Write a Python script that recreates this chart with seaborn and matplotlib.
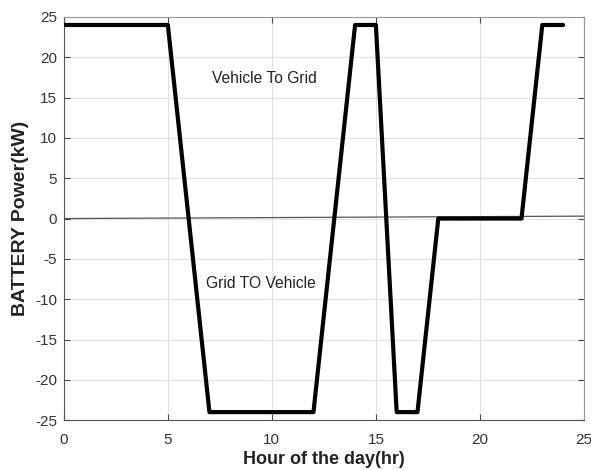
import matplotlib
matplotlib.use("Agg")
import matplotlib.pyplot as plt
import seaborn as sns
import pandas as pd

# Hourly battery power profile (kW)
hours = [0, 5, 7, 12, 14, 15, 16, 17, 18, 22, 23, 24]
power = [24, 24, -24, -24, 24, 24, -24, -24, 0, 0, 24, 24]

# Reference zero line
zero_x = [0, 25]
zero_y = [0, 0.3]

x_ticks = [0, 5, 10, 15, 20, 25]
y_ticks = [-25, -20, -15, -10, -5, 0, 5, 10, 15, 20, 25]

sns.set_theme(style="whitegrid")
plt.rcParams["font.family"] = ["Liberation Sans", "DejaVu Sans"]
plt.rcParams["axes.unicode_minus"] = False

fig = plt.figure(figsize=(5.91, 4.70), dpi=100)
ax = fig.add_axes([0.108, 0.106, 0.880, 0.858])

df = pd.DataFrame({"hour": hours, "power": power})
sns.lineplot(data=df, x="hour", y="power", ax=ax, color="black",
             linewidth=3.0, sort=False, zorder=3)
sns.lineplot(x=zero_x, y=zero_y, ax=ax, color="#555555", linewidth=0.9, zorder=2)

ax.set_xlim(0, 25)
ax.set_ylim(-25, 25)
ax.set_xticks(x_ticks)
ax.set_yticks(y_ticks)
ax.grid(True, color="#e2e2e2", linewidth=0.8)
ax.set_facecolor("white")

for side in ["left", "bottom", "top", "right"]:
    ax.spines[side].set_visible(True)
    ax.spines[side].set_color("#555555" if side in ("left", "bottom") else "#999999")
    ax.spines[side].set_linewidth(0.8)

ax.tick_params(axis="both", direction="in", length=4, width=0.8, color="#444444",
               labelsize=11, labelcolor="#333333", top=True, right=True,
               bottom=True, left=True)
ax.tick_params(axis="x", pad=9)
ax.tick_params(axis="y", pad=5)

ax.set_xlabel("Hour of the day(hr)", fontsize=13, fontweight="bold", color="#222222", labelpad=3)
ax.set_ylabel("BATTERY Power(kW)", fontsize=14, fontweight="bold", color="#222222", labelpad=4)

ax.text(9.64, 17.4, "Vehicle To Grid", ha="center", va="center", fontsize=11.25, color="#222222")
ax.text(9.45, -8.0, "Grid TO Vehicle", ha="center", va="center", fontsize=11.25, color="#222222")

fig.savefig("out.png", dpi=100, facecolor="white")
